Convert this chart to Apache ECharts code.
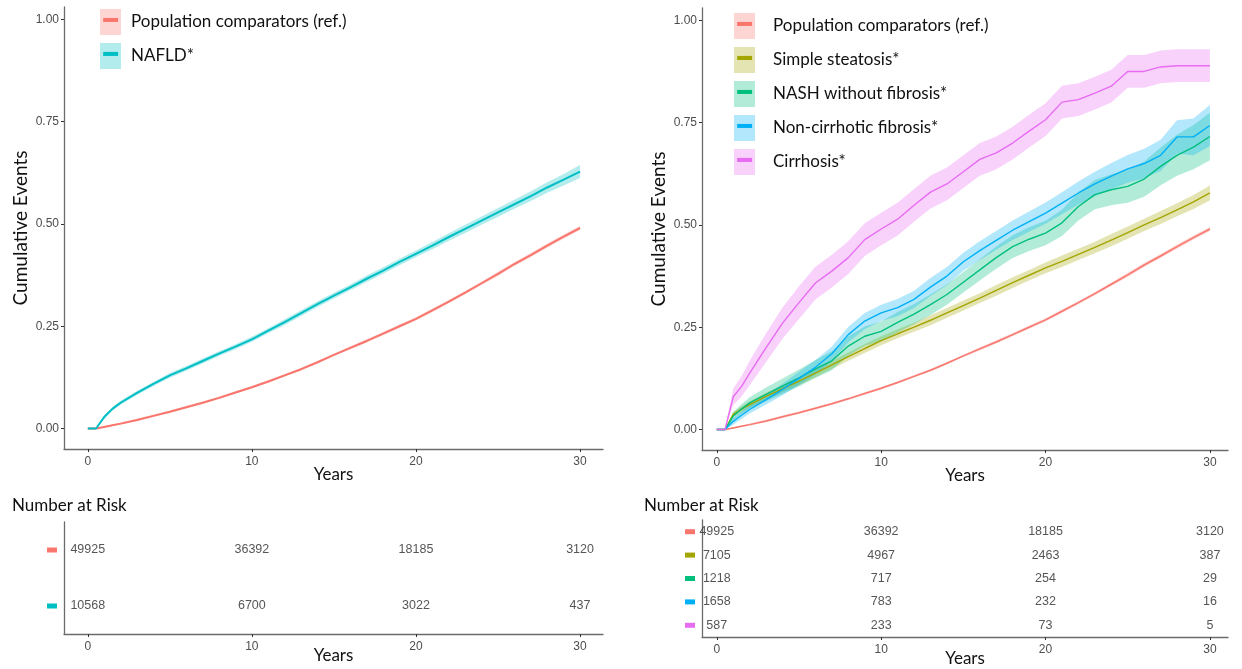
<!DOCTYPE html>
<html><head><meta charset="utf-8">
<script src="https://cdn.jsdelivr.net/npm/echarts@6.0.0/dist/echarts.min.js"></script>
<style>html,body{margin:0;padding:0;background:#fff}#c{width:1242px;height:669px}</style>
</head><body><div id="c"></div>
<script>
// ---------- data ----------
const years = [0,0.5,1,1.5,2,3,4,5,6,7,8,9,10,11,12,13,14,15,16,17,18,19,20,21,22,23,24,25,26,27,28,29,30];
const popVals   = [0,0,0.004,0.008,0.012,0.021,0.031,0.041,0.052,0.063,0.075,0.088,0.101,0.115,0.13,0.145,0.162,0.18,0.197,0.214,0.232,0.25,0.268,0.289,0.31,0.332,0.355,0.378,0.402,0.424,0.447,0.469,0.49];
const popHalf   = [0,0,0.002,0.002,0.003,0.003,0.003,0.003,0.003,0.003,0.003,0.003,0.003,0.003,0.003,0.003,0.003,0.003,0.004,0.004,0.004,0.004,0.004,0.004,0.004,0.004,0.004,0.005,0.005,0.005,0.005,0.005,0.005];
const nafldVals = [0,0,0.028,0.048,0.063,0.087,0.109,0.13,0.147,0.165,0.183,0.2,0.218,0.239,0.26,0.282,0.304,0.325,0.345,0.366,0.386,0.407,0.427,0.447,0.468,0.488,0.508,0.528,0.548,0.568,0.589,0.608,0.628];
const nafldHalf = [0,0,0.004,0.004,0.005,0.005,0.005,0.006,0.006,0.006,0.006,0.006,0.006,0.006,0.007,0.007,0.007,0.007,0.007,0.008,0.008,0.008,0.008,0.009,0.009,0.01,0.01,0.011,0.011,0.012,0.013,0.014,0.016];
const ssVals    = [0,0,0.037,0.05,0.061,0.081,0.1,0.118,0.138,0.158,0.178,0.198,0.217,0.234,0.25,0.267,0.285,0.303,0.321,0.34,0.359,0.377,0.395,0.411,0.428,0.445,0.463,0.481,0.5,0.518,0.537,0.556,0.578];
const ssHalf    = [0,0,0.006,0.007,0.008,0.009,0.009,0.01,0.01,0.01,0.01,0.011,0.011,0.011,0.011,0.012,0.012,0.012,0.012,0.013,0.013,0.013,0.013,0.014,0.014,0.014,0.015,0.015,0.015,0.016,0.016,0.017,0.018];
const nashVals  = [0,0,0.033,0.05,0.065,0.086,0.106,0.126,0.148,0.168,0.204,0.228,0.24,0.262,0.282,0.305,0.33,0.36,0.39,0.42,0.447,0.465,0.48,0.505,0.545,0.574,0.586,0.594,0.612,0.643,0.67,0.69,0.716];
const nashHalf  = [0,0,0.01,0.012,0.014,0.017,0.019,0.021,0.022,0.023,0.024,0.024,0.024,0.025,0.025,0.025,0.025,0.025,0.026,0.027,0.028,0.029,0.03,0.032,0.034,0.036,0.038,0.04,0.043,0.046,0.05,0.054,0.058];
const fibVals   = [0,0,0.02,0.035,0.049,0.073,0.098,0.125,0.152,0.185,0.232,0.265,0.285,0.298,0.318,0.348,0.375,0.41,0.437,0.462,0.487,0.508,0.529,0.553,0.578,0.6,0.619,0.637,0.65,0.67,0.715,0.715,0.743];
const fibHalf   = [0,0,0.008,0.009,0.01,0.012,0.014,0.016,0.017,0.018,0.019,0.02,0.02,0.021,0.021,0.022,0.022,0.022,0.023,0.023,0.024,0.025,0.026,0.027,0.028,0.03,0.032,0.034,0.036,0.038,0.041,0.045,0.05];
const cirVals   = [0,0,0.08,0.105,0.138,0.2,0.26,0.31,0.358,0.387,0.42,0.464,0.49,0.514,0.548,0.58,0.6,0.63,0.66,0.676,0.7,0.729,0.757,0.8,0.806,0.822,0.839,0.875,0.875,0.886,0.889,0.889,0.889];
const cirHalf   = [0,0,0.02,0.025,0.03,0.035,0.038,0.04,0.04,0.04,0.04,0.04,0.04,0.04,0.04,0.04,0.04,0.04,0.04,0.04,0.04,0.04,0.04,0.04,0.04,0.04,0.04,0.04,0.04,0.04,0.04,0.04,0.04];

const yTicks = [0, 0.25, 0.5, 0.75, 1];
const xTicks = [0, 10, 20, 30];
const riskYears = [0, 10, 20, 30];
const leftGroups  = ['Population comparators (ref.)', 'NAFLD*'];
const rightGroups = ['Population comparators (ref.)', 'Simple steatosis*', 'NASH without fibrosis*', 'Non-cirrhotic fibrosis*', 'Cirrhosis*'];
const riskPop   = [49925, 36392, 18185, 3120];
const riskNafld = [10568, 6700, 3022, 437];
const riskSS    = [7105, 4967, 2463, 387];
const riskNash  = [1218, 717, 254, 29];
const riskFib   = [1658, 783, 232, 16];
const riskCir   = [587, 233, 73, 5];

// ---------- styling ----------
const C = {pop:'#F8766D', nafld:'#00BFC4', ss:'#A3A500', nash:'#00BF7D', fib:'#00B0F6', cir:'#E76BF3'};
function alpha(hex, a){const n=parseInt(hex.slice(1),16);return `rgba(${n>>16},${(n>>8)&255},${n&255},${a})`;}
const TXT = 'Lato, "Noto Sans", sans-serif';
const NARROW = '"Liberation Sans Narrow", "Liberation Sans", Arial, sans-serif';
const AXC = '#6b6b6b';

function xAxisDef(grid, nameGap, labelMargin, min, max){
  return {type:'value', gridIndex:grid, min:min, max:max,
    axisLine:{show:true, onZero:false, lineStyle:{color:AXC, width:1.3}},
    axisTick:{show:true, length:3, customValues:xTicks, lineStyle:{color:'#333'}},
    axisLabel:{customValues:xTicks, fontFamily:NARROW, fontSize:12, color:'#4d4d4d', margin:labelMargin},
    splitLine:{show:false},
    name:'Years', nameLocation:'middle', nameGap:nameGap, nameMoveOverlap:false,
    nameTextStyle:{fontFamily:TXT, fontSize:17, color:'#111'}};
}
function yAxisDef(grid){
  return {type:'value', gridIndex:grid, min:-0.05, max:1.03,
    axisLine:{show:true, onZero:false, lineStyle:{color:AXC, width:1.3}},
    axisTick:{show:true, length:3, customValues:yTicks, lineStyle:{color:'#333'}},
    axisLabel:{customValues:yTicks, formatter:v=>v.toFixed(2), fontFamily:NARROW, fontSize:12, color:'#4d4d4d', margin:5},
    splitLine:{show:false},
    name:'Cumulative Events', nameLocation:'middle', nameGap:34, nameMoveOverlap:false,
    nameTextStyle:{fontFamily:TXT, fontSize:19, color:'#111'}};
}
function tableYAxis(grid, groups, colors){
  const rich = {};
  colors.forEach((c,i)=>{rich['m'+i] = {width:10, height:5, backgroundColor:c};});
  return {type:'category', gridIndex:grid, data:groups, inverse:true,
    axisLine:{show:true, onZero:false, lineStyle:{color:AXC, width:1.3}},
    axisTick:{show:false},
    axisLabel:{formatter:(v,i)=>'{m'+i+'|}', rich:rich, margin:7}};
}

function lineSeries(name, xi, vals, color, w){
  return {type:'line', name:name, xAxisIndex:xi, yAxisIndex:xi, z:3,
    data: years.map((t,i)=>[t, vals[i]]), showSymbol:false, symbol:'none',
    lineStyle:{color:color, width:w}, itemStyle:{color:color}, silent:true};
}
function bandSeries(xi, vals, half, color){
  return {type:'custom', xAxisIndex:xi, yAxisIndex:xi, z:1, silent:true,
    data: years.map((t,i)=>[t, vals[i]-half[i], vals[i]+half[i]]),
    encode:{x:0, y:[1,2]},
    renderItem:(params, api)=>{
      if (params.dataIndex !== 0) return;
      const pts = [];
      for (let i=0;i<years.length;i++) pts.push(api.coord([years[i], vals[i]+half[i]]));
      for (let i=years.length-1;i>=0;i--) pts.push(api.coord([years[i], vals[i]-half[i]]));
      return {type:'polygon', shape:{points:pts}, style:{fill:alpha(color,0.3), stroke:null}};
    }};
}
function riskSeries(xi, rows){
  const data = [];
  rows.forEach((r,ri)=>r.forEach((n,ci)=>data.push([riskYears[ci], ri, n])));
  return {type:'scatter', xAxisIndex:xi, yAxisIndex:xi, symbolSize:1, silent:true,
    itemStyle:{color:'rgba(0,0,0,0)'}, data:data,
    label:{show:true, position:'inside', formatter:p=>String(p.value[2]), fontFamily:NARROW, fontSize:12.5, color:'#2b2b2b'}};
}
function legendDef(left, top, groups, colors, gap, textGap){
  const rich = {t:{fontFamily:TXT, fontSize:17, color:'#111', padding:[0,0,0,textGap]}};
  colors.forEach((c,i)=>{rich['k'+i] = {width:21, height:26, lineHeight:26, backgroundColor:alpha(c,0.3), color:c, align:'center', fontSize:24, fontFamily:'"DejaVu Sans Mono", monospace'};});
  return {left:left, top:top, orient:'vertical', icon:'none', itemWidth:0, itemHeight:26, itemGap:gap,
    data:groups, selectedMode:false, padding:0,
    formatter:name=>'{k'+groups.indexOf(name)+'|━}{t|'+name+'}',
    textStyle:{rich:rich}};
}

const leftColors = [C.pop, C.nafld];
const rightColors = [C.pop, C.ss, C.nash, C.fib, C.cir];

const option = {
  backgroundColor:'#fff',
  animation:false,
  title:[
    {text:'Number at Risk', left:12, top:497, padding:0, textStyle:{fontFamily:TXT, fontSize:17, fontWeight:'normal', color:'#111'}},
    {text:'Number at Risk', left:644, top:497, padding:0, textStyle:{fontFamily:TXT, fontSize:17, fontWeight:'normal', color:'#111'}}
  ],
  legend:[
    legendDef(95, 9, leftGroups, leftColors, 8, 10),
    legendDef(729, 13, rightGroups, rightColors, 8, 18)
  ],
  grid:[
    {left:64, top:7, width:539, height:442, outerBoundsMode:'none', containLabel:false},
    {left:702, top:8, width:526, height:442, outerBoundsMode:'none', containLabel:false},
    {left:64, top:522, width:539, height:112, outerBoundsMode:'none', containLabel:false},
    {left:702, top:520, width:526, height:117, outerBoundsMode:'none', containLabel:false}
  ],
  xAxis:[
    xAxisDef(0, 17, 7, -1.45, 31.4),
    xAxisDef(1, 17, 7, -0.9, 31.1),
    xAxisDef(2, 13, 7, -1.45, 31.4),
    xAxisDef(3, 13, 7, -0.9, 31.1)
  ],
  yAxis:[
    yAxisDef(0), yAxisDef(1),
    tableYAxis(2, leftGroups, leftColors),
    tableYAxis(3, rightGroups, rightColors)
  ],
  series:[
    bandSeries(0, popVals, popHalf, C.pop),
    bandSeries(0, nafldVals, nafldHalf, C.nafld),
    lineSeries(leftGroups[0], 0, popVals, C.pop, 2),
    lineSeries(leftGroups[1], 0, nafldVals, C.nafld, 2),

    bandSeries(1, popVals, popHalf, C.pop),
    bandSeries(1, ssVals, ssHalf, C.ss),
    bandSeries(1, nashVals, nashHalf, C.nash),
    bandSeries(1, fibVals, fibHalf, C.fib),
    bandSeries(1, cirVals, cirHalf, C.cir),
    lineSeries(rightGroups[0], 1, popVals, C.pop, 1.5),
    lineSeries(rightGroups[1], 1, ssVals, C.ss, 1.4),
    lineSeries(rightGroups[2], 1, nashVals, C.nash, 1.4),
    lineSeries(rightGroups[3], 1, fibVals, C.fib, 1.4),
    lineSeries(rightGroups[4], 1, cirVals, C.cir, 1.4),

    riskSeries(2, [riskPop, riskNafld]),
    riskSeries(3, [riskPop, riskSS, riskNash, riskFib, riskCir])
  ]
};
const chart = echarts.init(document.getElementById('c'), null, {renderer:'canvas'});
chart.setOption(option);
</script></body></html>
